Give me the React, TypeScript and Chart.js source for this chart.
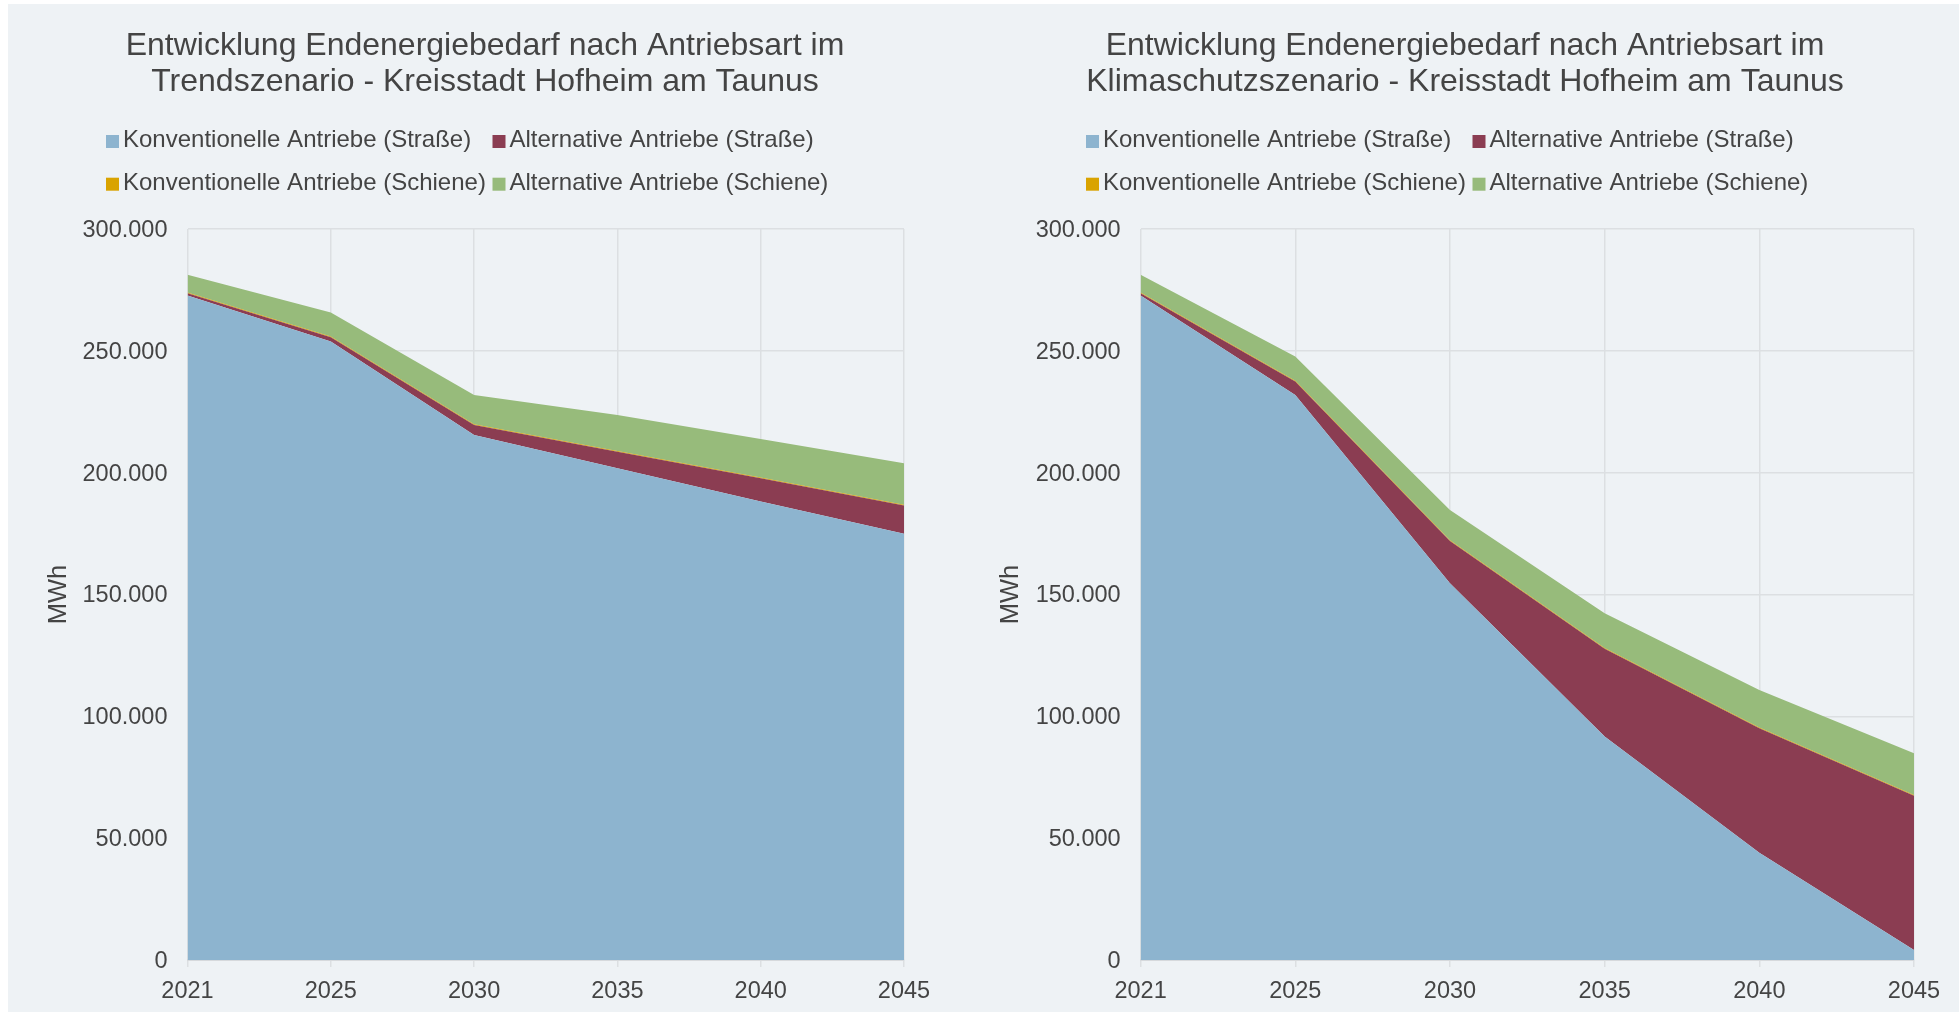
import React, { useEffect, useRef } from 'react';
import { Chart, registerables } from 'chart.js';

Chart.register(...registerables);

const FONT = '"Liberation Sans", Arial, sans-serif';
const TEXT_COLOR = '#444444';
const GRID_COLOR = '#DCDFE2';
const BG_COLOR = '#EEF2F5';

const years = ['2021', '2025', '2030', '2035', '2040', '2045'];
const yTicks = [0, 50000, 100000, 150000, 200000, 250000, 300000];

const seriesNames = [
  'Konventionelle Antriebe (Straße)',
  'Alternative Antriebe (Straße)',
  'Konventionelle Antriebe (Schiene)',
  'Alternative Antriebe (Schiene)',
];
const seriesColors = ['#8DB4CF', '#8B3D52', '#D9A300', '#97BB7B'];

const trendTitle = [
  'Entwicklung Endenergiebedarf nach Antriebsart im',
  'Trendszenario - Kreisstadt Hofheim am Taunus',
];
const trendKonvStrasse = [272700, 253800, 215500, 201800, 188200, 174900];
const trendAltStrasse = [900, 1800, 4100, 6800, 9500, 11600];
const trendKonvSchiene = [300, 300, 300, 300, 300, 300];
const trendAltSchiene = [7300, 9800, 12000, 14750, 15850, 17100];

const klimaTitle = [
  'Entwicklung Endenergiebedarf nach Antriebsart im',
  'Klimaschutzszenario - Kreisstadt Hofheim am Taunus',
];
const klimaKonvStrasse = [272700, 231900, 154600, 91700, 44000, 4100];
const klimaAltStrasse = [900, 5500, 17400, 36000, 51100, 63350];
const klimaKonvSchiene = [300, 300, 300, 300, 300, 300];
const klimaAltSchiene = [7300, 9950, 12400, 14350, 15400, 17100];

const yAxisTitle = 'MWh';

function formatDe(v: number): string {
  return String(Math.round(v)).replace(/\B(?=(\d{3})+(?!\d))/g, '.');
}

type Layout = {
  canvasLeft: number;
  width: number;
  plotLeft: number;
  plotRight: number;
  yTitlePad: number;
};

function makeHeaderPlugin(lines: string[]) {
  return {
    id: 'headerLegend',
    afterDraw(chart: any) {
      const ctx = chart.ctx as CanvasRenderingContext2D;
      ctx.save();
      ctx.fillStyle = TEXT_COLOR;
      ctx.textAlign = 'center';
      ctx.textBaseline = 'middle';
      ctx.font = `32px ${FONT}`;
      const titleYs = [46.5, 82.6];
      lines.forEach((l, i) => ctx.fillText(l, 485, titleYs[i]));
      ctx.textAlign = 'left';
      ctx.font = `24px ${FONT}`;
      const cols = [106, 492.5];
      const rows = [141.5, 184.2];
      seriesNames.forEach((name, i) => {
        const x = cols[i % 2];
        const y = rows[Math.floor(i / 2)];
        ctx.fillStyle = seriesColors[i];
        ctx.fillRect(x, y - 6.5, 13, 13);
        ctx.fillStyle = TEXT_COLOR;
        ctx.fillText(name, x + 17, y - 1.2);
      });
      ctx.restore();
    },
  };
}

function AreaChart(props: { lines: string[]; series: number[][]; layout: Layout }) {
  const ref = useRef<HTMLCanvasElement | null>(null);
  const { lines, series, layout } = props;
  useEffect(() => {
    if (!ref.current) return;
    const chart = new Chart(ref.current, {
      type: 'line',
      data: {
        labels: years,
        datasets: series.map((vals, i) => ({
          label: seriesNames[i],
          data: vals,
          backgroundColor: seriesColors[i],
          borderColor: 'rgba(0,0,0,0)',
          borderWidth: 0,
          pointRadius: 0,
          pointHoverRadius: 0,
          tension: 0,
          fill: i === 0 ? 'origin' : '-1',
        })),
      },
      options: {
        responsive: false,
        animation: false,
        devicePixelRatio: 1,
        layout: {
          padding: { top: 229, left: 0, right: layout.width - layout.plotRight, bottom: 0 },
        },
        plugins: {
          legend: { display: false },
          title: { display: false },
          tooltip: { enabled: false },
        },
        scales: {
          x: {
            type: 'category',
            offset: false,
            grid: { display: true, color: GRID_COLOR, lineWidth: 1.5, drawTicks: true, tickLength: 7, tickColor: GRID_COLOR },
            border: { display: true, color: '#D6D9DC', width: 2 },
            ticks: {
              color: TEXT_COLOR,
              font: { family: FONT, size: 23.5 },
              maxRotation: 0,
              autoSkip: false,
              padding: 10,
            },
            afterFit: (scale: any) => {
              scale.height = 56;
            },
          },
          y: {
            stacked: true,
            min: 0,
            max: 300000,
            afterBuildTicks: (scale: any) => {
              scale.ticks = yTicks.map((v) => ({ value: v }));
            },
            grid: { display: true, color: GRID_COLOR, lineWidth: 1.5, drawTicks: false },
            border: { display: false },
            ticks: {
              color: TEXT_COLOR,
              font: { family: FONT, size: 23.5 },
              padding: 20,
              labelOffset: 1.5,
              callback: (v: any) => formatDe(Number(v)),
            },
            title: {
              display: true,
              text: yAxisTitle,
              color: TEXT_COLOR,
              font: { family: FONT, size: 25.5 },
              padding: { top: layout.yTitlePad, bottom: 0 },
            },
            afterFit: (scale: any) => {
              scale.width = layout.plotLeft;
            },
          },
        },
      },
      plugins: [makeHeaderPlugin(lines)],
    } as any);
    return () => chart.destroy();
  }, []);
  return (
    <canvas
      ref={ref}
      width={layout.width}
      height={1016}
      style={{ position: 'absolute', left: layout.canvasLeft, top: 0, width: layout.width, height: 1016 }}
    />
  );
}

export default function App() {
  return (
    <div style={{ position: 'fixed', left: 0, top: 0, width: 1959, height: 1016, background: '#ffffff', overflow: 'hidden' }}>
      <div style={{ position: 'absolute', left: 8, top: 4, width: 1951, height: 1008, background: BG_COLOR }} />
      <AreaChart
        lines={trendTitle}
        series={[trendKonvStrasse, trendAltStrasse, trendKonvSchiene, trendAltSchiene]}
        layout={{ canvasLeft: 0, width: 980, plotLeft: 187.5, plotRight: 904, yTitlePad: 43.5 }}
      />
      <AreaChart
        lines={klimaTitle}
        series={[klimaKonvStrasse, klimaAltStrasse, klimaKonvSchiene, klimaAltSchiene]}
        layout={{ canvasLeft: 980, width: 979, plotLeft: 160.6, plotRight: 934, yTitlePad: 15.5 }}
      />
    </div>
  );
}
